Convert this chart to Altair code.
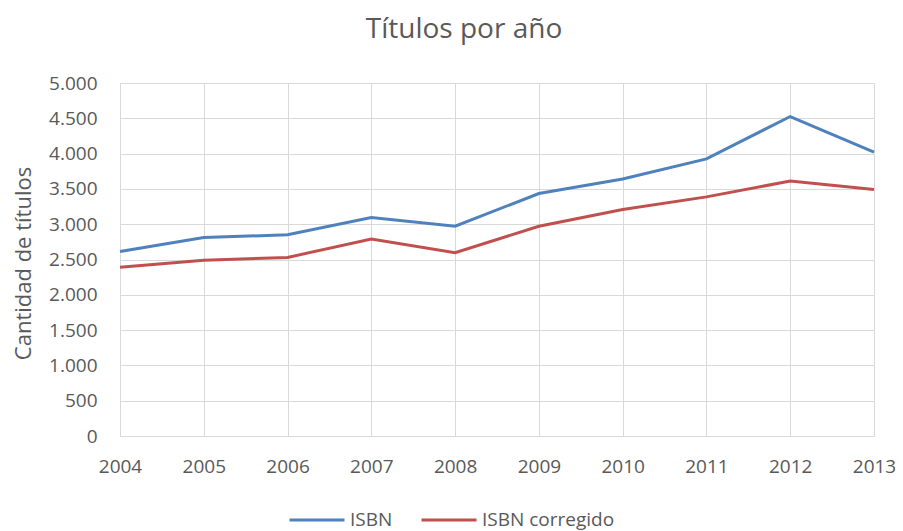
import altair as alt
import pandas as pd

years = [2004, 2005, 2006, 2007, 2008, 2009, 2010, 2011, 2012, 2013]
isbn = [2613, 2810, 2850, 3095, 2972, 3435, 3641, 3925, 4525, 4020]
isbn_corr = [2391, 2490, 2530, 2790, 2597, 2970, 3208, 3387, 3611, 3491]
series_names = ["ISBN", "ISBN corregido"]
colors = ["#4F81BD", "#C0504D"]

rows = []
for y, a, b in zip(years, isbn, isbn_corr):
    rows.append({"year": y, "value": a, "serie": series_names[0]})
    rows.append({"year": y, "value": b, "serie": series_names[1]})
df = pd.DataFrame(rows)

FONT = "Open Sans"
GREY = "#595959"

chart = alt.Chart(df).mark_line(strokeWidth=3).encode(
    x=alt.X("year:Q",
            scale=alt.Scale(domain=[2004, 2013], nice=False, zero=False),
            axis=alt.Axis(values=years, format="d", title=None, grid=True,
                          ticks=False, labelPadding=21, labelFontSize=19,
                          labelColor=GREY, labelFont=FONT,
                          domainColor="#d9d9d9", gridColor="#d9d9d9",
                          labelFlush=False)),
    y=alt.Y("value:Q",
            scale=alt.Scale(domain=[0, 5000], nice=False),
            axis=alt.Axis(values=list(range(0, 5001, 500)),
                          labelExpr="replace(format(datum.value, ','), ',', '.')",
                          title="Cantidad de títulos", titleFontSize=22,
                          titleFontWeight="normal", titleColor=GREY, titleFont=FONT,
                          titleX=-97, titleY=180, titleAngle=270,
                          titleBaseline="middle", titleAlign="center",
                          ticks=False, labelPadding=23,
                          labelFontSize=19, labelColor=GREY, labelFont=FONT,
                          domainColor="#d9d9d9", gridColor="#d9d9d9")),
    color=alt.Color("serie:N",
                    scale=alt.Scale(domain=series_names, range=colors),
                    legend=alt.Legend(title=None, orient="none", direction="horizontal",
                                      legendX=168, legendY=408,
                                      symbolType="stroke", symbolSize=3025,
                                      symbolStrokeWidth=3, labelFontSize=19,
                                      labelColor=GREY, labelFont=FONT,
                                      columnPadding=22, labelOffset=4)),
).properties(
    width=754,
    height=353,
    title=alt.TitleParams("Títulos por año", fontSize=28, font=FONT,
                          fontWeight="normal", color=GREY, dx=-33, offset=30),
    autosize=alt.AutoSizeParams(type="none"),
    padding={"left": 112, "top": 75, "right": 21, "bottom": 95},
).configure_view(stroke=None)

chart.save("out.html", embed_options={"renderer": "svg", "actions": False})
